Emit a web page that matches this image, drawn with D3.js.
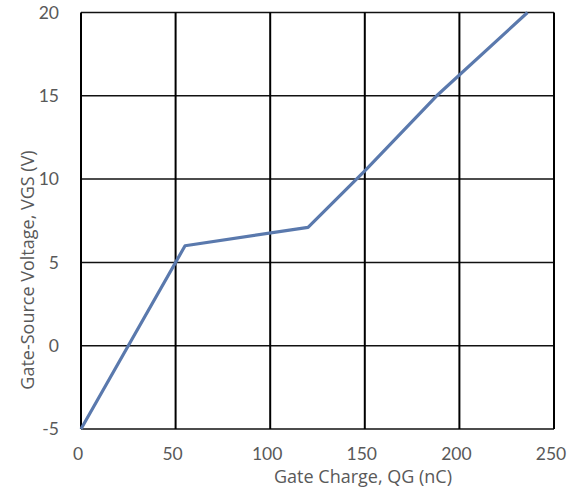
<!DOCTYPE html>
<html>
<head>
<meta charset="utf-8">
<script src="https://cdn.jsdelivr.net/npm/d3@7"></script>
<style>
  html, body { margin: 0; padding: 0; background: #fff; }
  svg { display: block; }
  text { font-family: Lato, "Open Sans", sans-serif; fill: #595959; }
  text.title { font-family: "Open Sans", Lato, sans-serif; }
</style>
</head>
<body>
<script>
// Gate charge curve: QG (nC) vs VGS (V)
const chargeNC = [0, 55, 120, 150, 188, 236];
const voltageV = [-5, 6, 7.1, 10.5, 15, 20];
const xTicks = [0, 50, 100, 150, 200, 250];
const yTicks = [-5, 0, 5, 10, 15, 20];
const xTitle = "Gate Charge, QG (nC)";
const yTitle = "Gate-Source Voltage, VGS (V)";

const W = 573, H = 491;
const plot = { left: 81, right: 554, top: 12.5, bottom: 429 };

const svg = d3.select("body").append("svg").attr("width", W).attr("height", H);

const x = d3.scaleLinear().domain([0, 250]).range([plot.left, plot.right]);
const y = d3.scaleLinear().domain([-5, 20]).range([plot.bottom, plot.top]);

// horizontal gridlines
svg.append("g").selectAll("line").data(yTicks).join("line")
  .attr("x1", plot.left).attr("x2", plot.right)
  .attr("y1", d => y(d)).attr("y2", d => y(d))
  .attr("stroke", "#111").attr("stroke-width", 1.5);

// vertical gridlines
svg.append("g").selectAll("line").data(xTicks).join("line")
  .attr("x1", d => x(d)).attr("x2", d => x(d))
  .attr("y1", plot.top).attr("y2", plot.bottom)
  .attr("stroke", "#000").attr("stroke-width", 2);

// y tick labels
svg.append("g").selectAll("text").data(yTicks).join("text")
  .attr("x", 59).attr("y", d => y(d))
  .attr("dy", "0.35em")
  .attr("text-anchor", "end")
  .attr("font-size", 17.5)
  .text(d => d);

// x tick labels
svg.append("g").selectAll("text").data(xTicks).join("text")
  .attr("x", d => x(d) - 3).attr("y", 460)
  .attr("text-anchor", "middle")
  .attr("font-size", 17.5)
  .text(d => d);

// axis titles
svg.append("text")
  .attr("class", "title")
  .attr("x", 363).attr("y", 483)
  .attr("text-anchor", "middle")
  .attr("font-size", 18)
  .text(xTitle);

svg.append("text")
  .attr("class", "title")
  .attr("transform", "translate(34,270) rotate(-90)")
  .attr("text-anchor", "middle")
  .attr("font-size", 18)
  .text(yTitle);

// the curve
const pts = chargeNC.map((q, i) => [q, voltageV[i]]);
svg.append("path")
  .datum(pts)
  .attr("fill", "none")
  .attr("stroke", "#5a79ad")
  .attr("stroke-width", 3.2)
  .attr("stroke-linejoin", "round")
  .attr("d", d3.line().x(d => x(d[0])).y(d => y(d[1])));
</script>
</body>
</html>
